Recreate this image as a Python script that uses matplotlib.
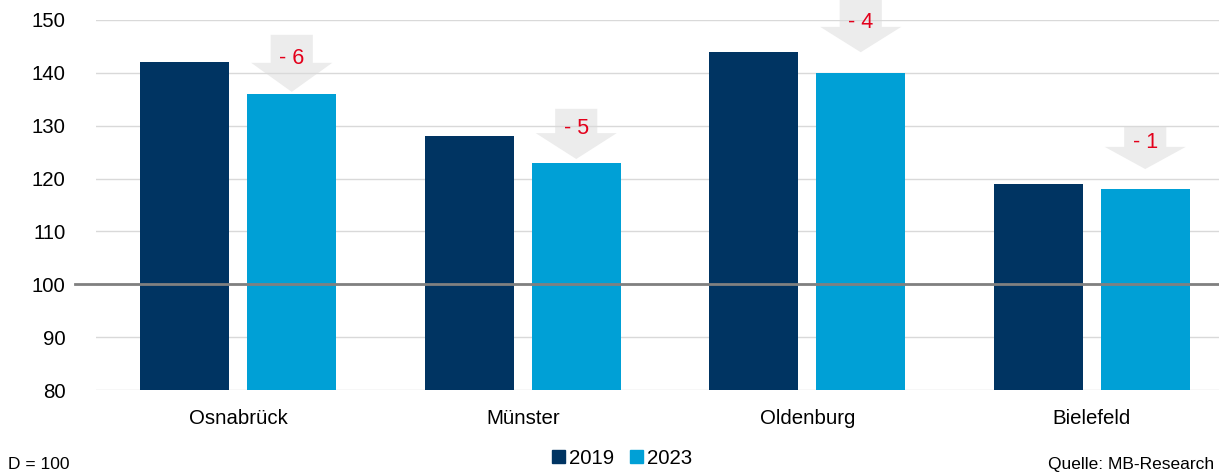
import matplotlib
matplotlib.use("Agg")
import matplotlib.pyplot as plt
from matplotlib.patches import Polygon, Patch
import matplotlib.transforms as mtransforms
import numpy as np

plt.rcParams['font.family'] = ['Liberation Sans', 'DejaVu Sans']

cities = ["Osnabrück", "Münster", "Oldenburg", "Bielefeld"]
v2019 = [142, 128, 144, 119]
v2023 = [136, 123, 140, 118]
diff_labels = ["- 6", "- 5", "- 4", "- 1"]
# arrow geometry in value units: top of shaft, base of head, tip
arrow_top = [147.2, 133.2, 154.5, 129.8]
arrow_base = [141.9, 128.6, 148.7, 126.0]
arrow_tip = [136.4, 123.7, 143.9, 121.8]
yticks = [80, 90, 100, 110, 120, 130, 140, 150]

c2019 = "#003462"
c2023 = "#00A0D6"
FS = 14.7

W, H = 1219, 473
fig = plt.figure(figsize=(W/100, H/100), dpi=100)
ax = fig.add_axes([96/W, 1-390/H, (1234-96)/W, (390-20)/H])

x = np.arange(len(cities))
bw = 0.313
off = 0.188
ax.bar(x - off, v2019, bw, color=c2019, zorder=3, label="2019")
ax.bar(x + off, v2023, bw, color=c2023, zorder=3, label="2023")

ax.set_ylim(80, 150)
ax.set_xlim(-0.5, len(cities) - 0.5)
ax.set_yticks(yticks)
ax.set_xticks(x)
ax.set_xticklabels(cities)
ax.tick_params(axis='both', length=0, labelsize=FS)
ax.tick_params(axis='y', pad=22)
ax.tick_params(axis='x', pad=13.5)
for s in ax.spines.values():
    s.set_visible(False)
for t in yticks:
    ax.axhline(t, color="#d9d9d9", lw=1, zorder=2)

# 100 reference line extending left of the plot area
trans = mtransforms.blended_transform_factory(fig.transFigure, ax.transData)
ax.plot([75/W, 1.0], [100, 100], color="#808080", lw=2, transform=trans,
        clip_on=False, zorder=4)

shaft_w = 0.148
head_w = 0.285
for i in range(len(cities)):
    cx = x[i] + off
    pts = [(cx - shaft_w/2, arrow_top[i]), (cx + shaft_w/2, arrow_top[i]),
           (cx + shaft_w/2, arrow_base[i]), (cx + head_w/2, arrow_base[i]),
           (cx, arrow_tip[i]), (cx - head_w/2, arrow_base[i]),
           (cx - shaft_w/2, arrow_base[i])]
    ax.add_patch(Polygon(pts, closed=True, facecolor="#ececec", edgecolor="none",
                         zorder=1, clip_on=False))
    ax.text(cx, arrow_base[i] + 0.8, diff_labels[i], color="#e3001b",
            ha="center", va="center", fontsize=FS + 0.8, zorder=5)

handles = [Patch(color=c2019, label="2019"), Patch(color=c2023, label="2023")]
fig.legend(handles=handles, loc="center", bbox_to_anchor=(622/W, 1-458/H),
           ncol=2, frameon=False, fontsize=FS, handlelength=0.62, handleheight=0.62,
           handletextpad=0.2, columnspacing=0.8)

fig.text(8/W, 1/H, "D = 100", fontsize=FS*0.85, va="bottom", ha="left")
fig.text(1214/W, 1/H, "Quelle: MB-Research", fontsize=FS*0.85, va="bottom", ha="right")

fig.savefig("out.png", dpi=100)
